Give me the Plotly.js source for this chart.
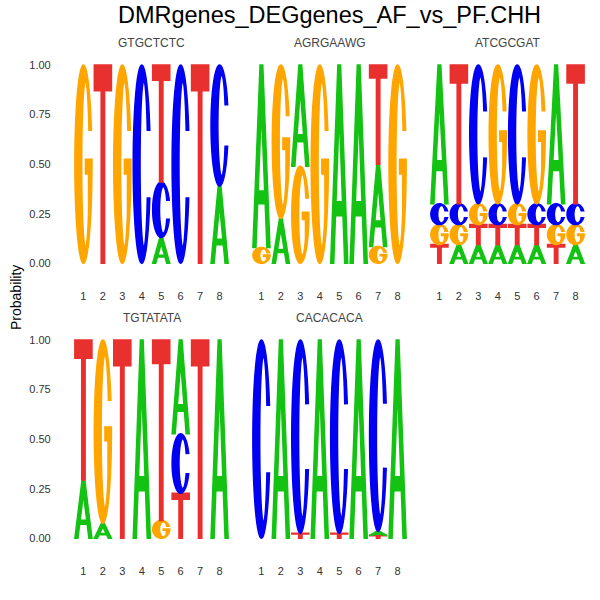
<!DOCTYPE html>
<html>
<head>
<meta charset="utf-8">
<script src="https://cdn.plot.ly/plotly-3.0.1.min.js"></script>
<style>
  html, body { margin: 0; padding: 0; background: #fff; }
  #chart { width: 600px; height: 600px; }
</style>
</head>
<body>
<div id="chart"></div>
<script>
const chartTitle = 'DMRgenes_DEGgenes_AF_vs_PF.CHH';
const panelTitles = ['GTGCTCTC', 'AGRGAAWG', 'ATCGCGAT', 'TGTATATA', 'CACACACA'];
const positions = [1, 2, 3, 4, 5, 6, 7, 8];
const yTicks = [0, 0.25, 0.5, 0.75, 1];
const yTickText = ['0.00', '0.25', '0.50', '0.75', '1.00'];

// probability per base and position, one set per motif
const m1A = [0, 0, 0, 0, 0.13, 0, 0, 0.39];
const m1C = [0, 0, 0, 1, 0.28, 1, 0, 0.61];
const m1G = [1, 0, 1, 0, 0, 0, 0, 0];
const m1T = [0, 1, 0, 0, 0.59, 0, 1, 0];

const m2A = [0.92, 0.226, 0.51, 0, 1, 1, 0.415, 0];
const m2C = [0, 0, 0, 0, 0, 0, 0, 0];
const m2G = [0.08, 0.774, 0.49, 1, 0, 0, 0.085, 1];
const m2T = [0, 0, 0, 0, 0, 0, 0.5, 0];

const m3A = [0.7, 0.095, 0.095, 0.095, 0.095, 0.095, 0.7, 0.095];
const m3C = [0.105, 0.105, 0.7, 0.105, 0.7, 0.105, 0.105, 0.105];
const m3G = [0.1, 0.1, 0.105, 0.7, 0.105, 0.7, 0.1, 0.1];
const m3T = [0.095, 0.7, 0.1, 0.1, 0.1, 0.1, 0.095, 0.7];

const m4A = [0.294, 0.076, 0, 1, 0, 0.473, 0, 1];
const m4C = [0, 0, 0, 0, 0, 0.3, 0, 0];
const m4G = [0, 0.924, 0, 0, 0.09, 0, 0, 0];
const m4T = [0.706, 0, 1, 0, 0.91, 0.227, 1, 0];

const m5A = [0, 1, 0, 1, 0, 1, 0.02, 1];
const m5C = [1, 0, 0.975, 0, 0.975, 0, 0.965, 0];
const m5G = [0, 0, 0, 0, 0, 0, 0, 0];
const m5T = [0, 0, 0.025, 0, 0.025, 0, 0.015, 0];

const motifs = [
  { A: m1A, C: m1C, G: m1G, T: m1T },
  { A: m2A, C: m2C, G: m2G, T: m2T },
  { A: m3A, C: m3C, G: m3G, T: m3T },
  { A: m4A, C: m4C, G: m4G, T: m4T },
  { A: m5A, C: m5C, G: m5G, T: m5T },
];

const COLS = { A: '#14C214', C: '#0000F2', G: '#FFA500', T: '#E8302E' };
const LETTER_W = 0.88;

// glyph outlines in a unit box, stretched later to the stack cell
function arc(cx, cy, rx, ry, a0, a1, n) {
  const pts = [];
  for (let i = 0; i <= n; i++) {
    const a = (a0 + (a1 - a0) * i / n) * Math.PI / 180;
    pts.push([cx + rx * Math.cos(a), cy + ry * Math.sin(a)]);
  }
  return pts;
}

const GLYPHS = {
  A: [
    [[0, 0], [0.42, 1], [0.58, 1], [1, 0], [0.82, 0], [0.719, 0.24], [0.281, 0.24], [0.18, 0]],
    [[0.31, 0.31], [0.69, 0.31], [0.5, 0.76]],
  ],
  C: [
    arc(0.5, 0.5, 0.5, 0.5, 20, 340, 60).concat(arc(0.62, 0.5, 0.22, 0.42, 336, 24, 60)),
  ],
  G: [
    arc(0.5, 0.5, 0.5, 0.5, 20, 360, 60)
      .concat([[1, 0.525], [0.62, 0.525], [0.62, 0.45], [0.8, 0.45]])
      .concat(arc(0.62, 0.5, 0.22, 0.42, 325, 24, 60)),
  ],
  T: [
    [[0, 0.87], [0, 1], [1, 1], [1, 0.87], [0.6, 0.87], [0.6, 0], [0.4, 0], [0.4, 0.87]],
  ],
};

function glyphPath(letter, x0, w, y0, h) {
  return GLYPHS[letter].map((poly) =>
    'M' + poly.map(([u, v]) => (x0 + u * w).toFixed(4) + ',' + (y0 + v * h).toFixed(5)).join('L') + 'Z',
  ).join('');
}

// pixel layout of the facets (600x600 page)
const colPx = [[71.75, 231.25], [249.75, 409.25], [427.75, 587.25]];
const rowPx = [[55.1, 273.2], [330.1, 548.2]];
const PX = (v) => v / 600;

const layout = {
  width: 600,
  height: 600,
  margin: { l: 0, r: 0, t: 0, b: 0 },
  paper_bgcolor: '#fff',
  plot_bgcolor: '#fff',
  showlegend: false,
  font: { family: 'Liberation Sans, Arial, sans-serif', color: '#333' },
  title: {
    text: chartTitle,
    x: PX(329.5), xanchor: 'center',
    y: 1 - PX(15), yanchor: 'middle',
    font: { size: 23.5, color: '#000' },
  },
  shapes: [],
  annotations: [],
};

const traces = [];

motifs.forEach((m, i) => {
  const col = i % 3;
  const row = Math.floor(i / 3);
  const sfx = i === 0 ? '' : String(i + 1);
  const xa = 'x' + sfx;
  const ya = 'y' + sfx;

  layout['xaxis' + sfx] = {
    domain: [PX(colPx[col][0]), PX(colPx[col][1])],
    anchor: ya,
    range: [0.4, 8.6],
    fixedrange: true,
    showgrid: false, zeroline: false, showline: false, ticks: '',
    tickvals: positions,
    ticktext: positions.map(String),
    ticklabelstandoff: 15,
    tickfont: { size: 11, color: '#333' },
  };
  layout['yaxis' + sfx] = {
    domain: [1 - PX(rowPx[row][1]), 1 - PX(rowPx[row][0])],
    anchor: xa,
    range: [-0.05, 1.05],
    fixedrange: true,
    showgrid: false, zeroline: false, showline: false, ticks: '',
    tickvals: yTicks,
    ticktext: yTickText,
    showticklabels: col === 0,
    ticklabelstandoff: 20,
    tickfont: { size: 11, color: '#333' },
  };

  traces.push({ type: 'scatter', x: [], y: [], xaxis: xa, yaxis: ya, hoverinfo: 'skip', showlegend: false });

  layout.annotations.push({
    text: panelTitles[i],
    xref: xa + ' domain', x: 0.5, xanchor: 'center',
    yref: ya + ' domain', y: 1, yanchor: 'middle', yshift: 12,
    showarrow: false,
    font: { size: 12, color: '#444' },
  });

  // stack letters smallest at the bottom, as ggseqlogo does
  positions.forEach((pos, j) => {
    const stack = Object.keys(m)
      .map((b) => ({ b, p: m[b][j] }))
      .filter((d) => d.p > 0)
      .sort((a, b) => a.p - b.p);
    let base = 0;
    stack.forEach((d) => {
      layout.shapes.push({
        type: 'path',
        xref: xa, yref: ya,
        path: glyphPath(d.b, pos - LETTER_W / 2, LETTER_W, base, d.p),
        fillcolor: COLS[d.b],
        fillrule: 'evenodd',
        line: { width: 1.5, color: COLS[d.b] },
        layer: 'above',
      });
      base += d.p;
    });
  });
});

layout.annotations.push({
  text: 'Probability',
  xref: 'paper', yref: 'paper',
  x: PX(16), y: 1 - PX(298),
  xanchor: 'center', yanchor: 'middle',
  textangle: -90,
  showarrow: false,
  font: { size: 14, color: '#000' },
});

Plotly.newPlot('chart', traces, layout, { displayModeBar: false, staticPlot: true });
</script>
</body>
</html>
